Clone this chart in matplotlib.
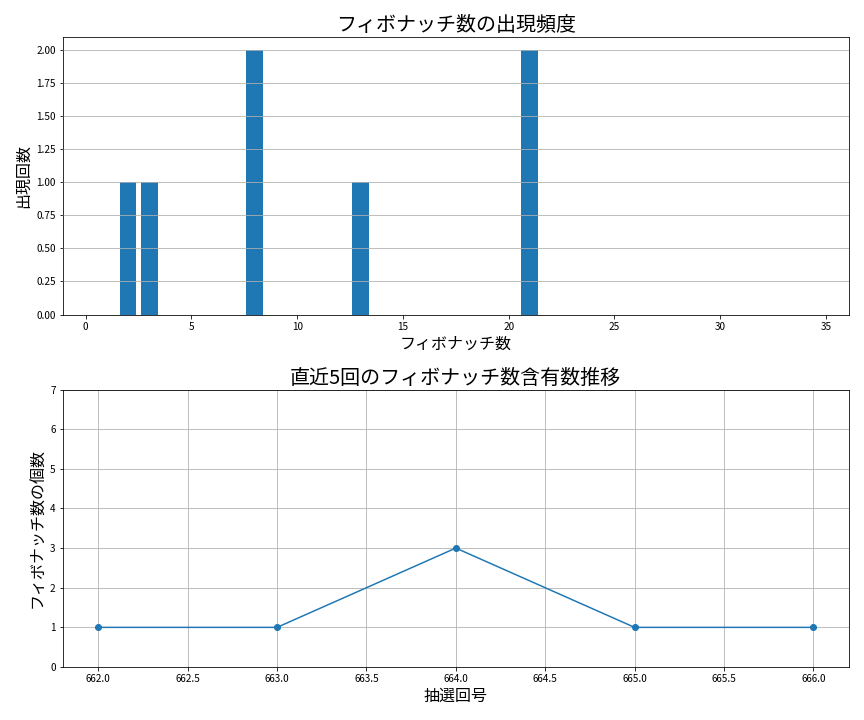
import matplotlib
matplotlib.use("Agg")
import matplotlib.pyplot as plt

plt.rcParams['font.family'] = ['Noto Sans CJK JP', 'DejaVu Sans']

# フィボナッチ数ごとの出現回数
fib_numbers = [1, 2, 3, 5, 8, 13, 21, 34]
fib_counts = [0, 1, 1, 0, 2, 1, 2, 0]

# 直近5回の含有数
draw_ids = [662, 663, 664, 665, 666]
fib_per_draw = [1, 1, 3, 1, 1]

fig, (ax1, ax2) = plt.subplots(2, 1, figsize=(12, 10), dpi=72)

ax1.bar(fib_numbers, fib_counts)
ax1.set_title("フィボナッチ数の出現頻度", fontsize=20)
ax1.set_xlabel("フィボナッチ数", fontsize=16)
ax1.set_ylabel("出現回数", fontsize=16)
ax1.grid(axis='y')
ax1.set_axisbelow(False)

ax2.plot(draw_ids, fib_per_draw, marker='o')
ax2.set_title("直近5回のフィボナッチ数含有数推移", fontsize=20)
ax2.set_xlabel("抽選回号", fontsize=16)
ax2.set_ylabel("フィボナッチ数の個数", fontsize=16)
ax2.set_ylim(0, 7)
ax2.grid(True)

plt.tight_layout(pad=1.5)
plt.savefig("out.png")
